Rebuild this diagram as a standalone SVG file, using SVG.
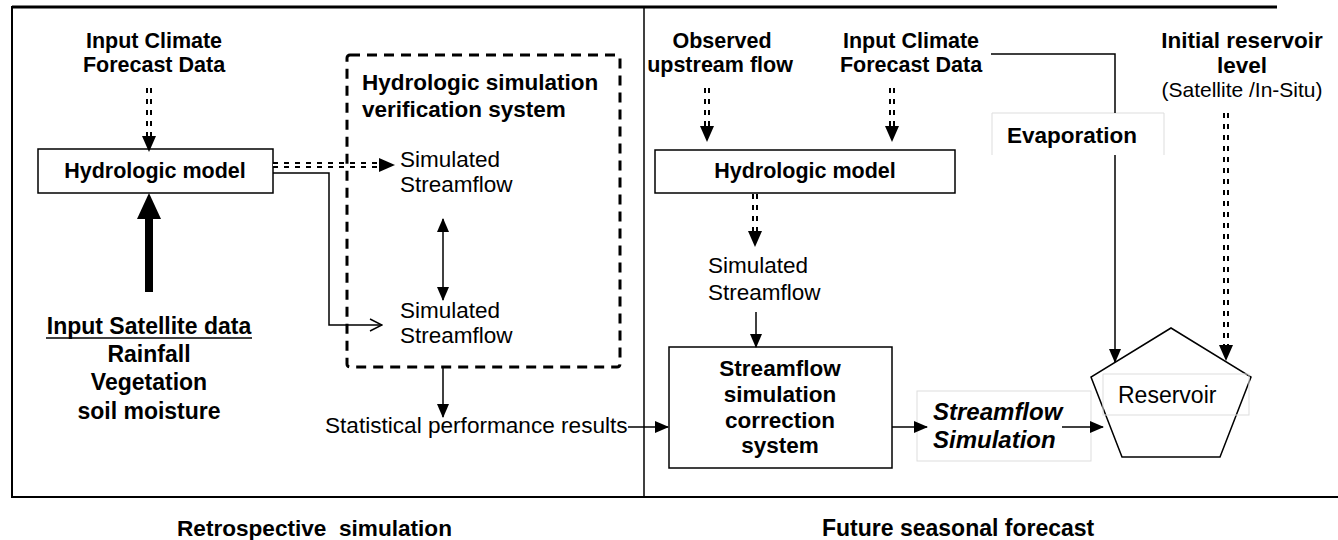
<svg xmlns="http://www.w3.org/2000/svg" width="1338" height="540" viewBox="0 0 1338 540">
<style>
text{font-family:"Liberation Sans",Arial,sans-serif;fill:#000}
.r{font-size:22.5px}
.b{font-size:21.5px;font-weight:bold}
.c{text-anchor:middle}
.box{fill:#fff;stroke:#000;stroke-width:1.5}
.lbl{fill:none;stroke:#ddd;stroke-width:1}
.ln{fill:none;stroke:#000;stroke-width:1.5}
.dd{fill:none;stroke:#000;stroke-width:6;stroke-dasharray:5 6}
.ddw{fill:none;stroke:#fff;stroke-width:2;stroke-dasharray:5 6}
</style>
<defs>
<marker id="a" markerUnits="userSpaceOnUse" markerWidth="14" markerHeight="12" refX="13" refY="6" orient="auto"><path d="M0,0 L14,6 L0,12 Z" fill="#000"/></marker>
<marker id="a2" markerUnits="userSpaceOnUse" markerWidth="14" markerHeight="12" refX="1" refY="6" orient="auto"><path d="M14,0 L0,6 L14,12 Z" fill="#000"/></marker>
<marker id="ab" markerUnits="userSpaceOnUse" markerWidth="16" markerHeight="14" refX="0" refY="7" orient="auto"><path d="M0,0 L16,7 L0,14 Z" fill="#000"/></marker>
<marker id="ao" markerUnits="userSpaceOnUse" markerWidth="14" markerHeight="14" refX="13" refY="7" orient="auto"><path d="M1,1 L13,7 L1,13" fill="none" stroke="#000" stroke-width="1.5"/></marker>
</defs>
<rect width="1338" height="540" fill="#fff"/>
<g id="frame">
<line x1="12" y1="7" x2="1277" y2="7" stroke="#000" stroke-width="3"/>
<line x1="12" y1="6" x2="12" y2="498" stroke="#000" stroke-width="2"/>
<line x1="11" y1="497" x2="1338" y2="497" stroke="#000" stroke-width="2"/>
<line x1="644" y1="7" x2="644" y2="497" stroke="#000" stroke-width="1.5"/>
</g>
<g id="input-climate-left"><text class="b c" x="154" y="48">Input Climate</text><text class="b c" x="154" y="72">Forecast Data</text></g>
<g id="hydro-left"><rect class="box" x="38" y="149" width="235" height="44"/><text class="b c" x="155" y="178" style="font-size:21.5px">Hydrologic model</text></g>
<g id="satellite"><text class="b c" x="149" y="334" style="font-size:23px">Input Satellite data</text><line x1="46" y1="338" x2="252" y2="338" stroke="#000" stroke-width="1.5"/><text class="b c" x="149" y="362" style="font-size:23px">Rainfall</text><text class="b c" x="149" y="390" style="font-size:23px">Vegetation</text><text class="b c" x="149" y="419" style="font-size:23px">soil moisture</text></g>
<g id="verification"><rect x="347" y="55" width="273" height="312" rx="3" fill="none" stroke="#000" stroke-width="3" stroke-dasharray="10 7"/><text class="b" x="362" y="90" style="font-size:22.5px">Hydrologic simulation</text><text class="b" x="362" y="117" style="font-size:22.5px">verification system</text></g>
<g id="sim1"><text class="r" x="400" y="167">Simulated</text><text class="r" x="400" y="192">Streamflow</text></g>
<g id="sim2"><text class="r" x="400" y="318">Simulated</text><text class="r" x="400" y="343">Streamflow</text></g>
<g id="stats"><text class="r" x="325" y="433" style="font-size:22.6px">Statistical performance results</text></g>
<g id="retro"><text class="b" x="177" y="536" style="font-size:22.6px" xml:space="preserve">Retrospective  simulation</text></g>
<g id="observed"><text class="b c" x="722" y="48">Observed</text><text class="b c" x="720" y="72">upstream flow</text></g>
<g id="input-climate-right"><text class="b c" x="911" y="48">Input Climate</text><text class="b c" x="911" y="72">Forecast Data</text></g>
<g id="hydro-right"><rect class="box" x="655" y="150" width="300" height="43"/><text class="b c" x="805" y="178" style="font-size:21.5px">Hydrologic model</text></g>
<g id="sim3"><text class="r" x="708" y="273">Simulated</text><text class="r" x="708" y="300">Streamflow</text></g>
<g id="correction"><rect class="box" x="669" y="347" width="223" height="121"/><text class="b c" x="780" y="376" style="font-size:22.5px">Streamflow</text><text class="b c" x="780" y="402" style="font-size:22.5px">simulation</text><text class="b c" x="780" y="428" style="font-size:22.5px">correction</text><text class="b c" x="780" y="453" style="font-size:22.5px">system</text></g>
<g id="sf-sim"><rect class="lbl" x="917" y="391" width="174" height="70"/><text class="b" font-style="italic" x="933" y="420" style="font-size:24px">Streamflow</text><text class="b" font-style="italic" x="933" y="448" style="font-size:24px">Simulation</text></g>
<g id="evaporation"><path class="lbl" d="M992,155 V113 H1164 V155"/><text class="b" x="1007" y="143" style="font-size:22.5px">Evaporation</text></g>
<g id="initial-level"><text class="b c" x="1242" y="48" style="font-size:22.5px">Initial reservoir</text><text class="b c" x="1242" y="73" style="font-size:22.5px">level</text><text class="r c" x="1242" y="97" style="font-size:21px">(Satellite /In-Situ)</text></g>
<g id="reservoir"><polygon points="1171,328 1251,377 1220,457 1122,457 1091,377" fill="#fff" stroke="#000" stroke-width="1.5"/><rect class="lbl" x="1103" y="374" width="146" height="41"/><text class="r" x="1118" y="403" style="font-size:23px">Reservoir</text></g>
<g id="future"><text class="b" x="822" y="536" style="font-size:23px">Future seasonal forecast</text></g>
<g id="connectors">
<path class="dd" d="M149,88 V136" marker-end="url(#ab)"/><path class="ddw" d="M149,88 V136"/>
<path class="dd" d="M273,165 H379" marker-end="url(#ab)"/><path class="ddw" d="M273,165 H379"/>
<path class="ln" d="M273,173 H329 V325 H382" marker-end="url(#ao)"/>
<rect x="145" y="215" width="8" height="77" fill="#000"/>
<path d="M149,193 L137,219 L161,219 Z" fill="#000"/>
<path class="ln" d="M443,219 V300" marker-start="url(#a2)" marker-end="url(#a)"/>
<path class="ln" d="M443,367 V417" marker-end="url(#a)"/>
<path class="ln" d="M628,427 H668" marker-end="url(#a)"/>
<path class="dd" d="M707,88 V126" marker-end="url(#ab)"/><path class="ddw" d="M707,88 V126"/>
<path class="dd" d="M892,88 V126" marker-end="url(#ab)"/><path class="ddw" d="M892,88 V126"/>
<path class="dd" d="M755,194 V231" marker-end="url(#ab)"/><path class="ddw" d="M755,194 V231"/>
<path class="ln" d="M756,312 V347" marker-end="url(#a)"/>
<path class="ln" d="M892,427 H927" marker-end="url(#a)"/>
<path class="ln" d="M1062,427 H1103" marker-end="url(#a)"/>
<path class="ln" d="M991,54 H1115 V113"/>
<path class="ln" d="M1115,155 V362" marker-end="url(#a)"/>
<path class="dd" d="M1226,113 V345" marker-end="url(#ab)"/><path class="ddw" d="M1226,113 V345"/>
</g>
</svg>
